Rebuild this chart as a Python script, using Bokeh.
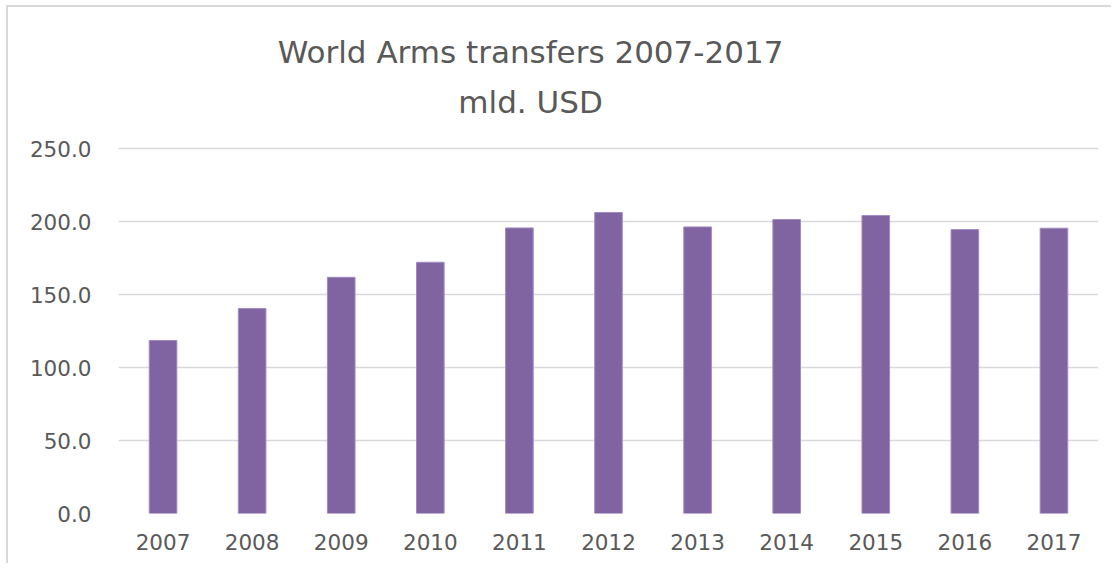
from bokeh.plotting import figure
from bokeh.models import Label, FactorRange, Range1d, NumeralTickFormatter, FixedTicker
from bokeh.embed import file_html
from bokeh.resources import INLINE

years = ["2007", "2008", "2009", "2010", "2011", "2012", "2013", "2014", "2015", "2016", "2017"]
transfers = [118.5, 140.4, 161.8, 172.1, 195.6, 206.2, 196.3, 201.4, 204.1, 194.5, 195.4]
y_ticks = [0, 50, 100, 150, 200, 250]
title_lines = ["World Arms transfers 2007-2017", "mld. USD"]

FONT = "DejaVu Sans"
TXT = "#595959"
GRID = "#d9d9d9"

# the frame extends up to the top of the canvas so that the title (drawn as labels) is not clipped
p = figure(x_range=FactorRange(*years, range_padding=0), y_range=Range1d(0, 351.4),
           width=1111, height=563, output_backend="svg", toolbar_location=None,
           min_border_left=118, min_border_right=13, min_border_top=0, min_border_bottom=50)

p.vbar(x=years, top=transfers, width=0.31, fill_color="#8064A2", line_color="#a08cc0", line_width=1)

p.outline_line_color = None
p.background_fill_color = None
p.border_fill_color = None

p.xgrid.grid_line_color = None
p.ygrid.grid_line_color = GRID
p.ygrid.grid_line_width = 1.5

p.yaxis.ticker = FixedTicker(ticks=y_ticks)
p.yaxis.formatter = NumeralTickFormatter(format="0.0")
for ax in (p.xaxis[0], p.yaxis[0]):
    ax.axis_line_color = None
    ax.major_tick_line_color = None
    ax.minor_tick_line_color = None
    ax.major_tick_out = 0
    ax.major_tick_in = 0
    ax.major_label_text_font = FONT
    ax.major_label_text_font_size = "21.5px"
    ax.major_label_text_color = TXT
p.yaxis.major_label_standoff = 27
p.xaxis.major_label_standoff = 20

title_x = 4.625
p.add_layout(Label(x=title_x, y=316.0, text=title_lines[0],
                   text_align="center", text_baseline="alphabetic", text_font=FONT,
                   text_font_size="31px", text_color=TXT))
p.add_layout(Label(x=title_x, y=281.7, text=title_lines[1],
                   text_align="center", text_baseline="alphabetic", text_font=FONT,
                   text_font_size="31px", text_color=TXT))

# light chart-area border on the left and top (drawn behind the transparent canvas)
p.styles = {
    "background-color": "white",
    "background-image": "linear-gradient(#d9d9d9, #d9d9d9), linear-gradient(#d9d9d9, #d9d9d9)",
    "background-position": "6px 5px, 6px 5px",
    "background-size": "2px 100%, 100% 2px",
    "background-repeat": "no-repeat",
}

open("out.html", "w").write(file_html(p, INLINE))
